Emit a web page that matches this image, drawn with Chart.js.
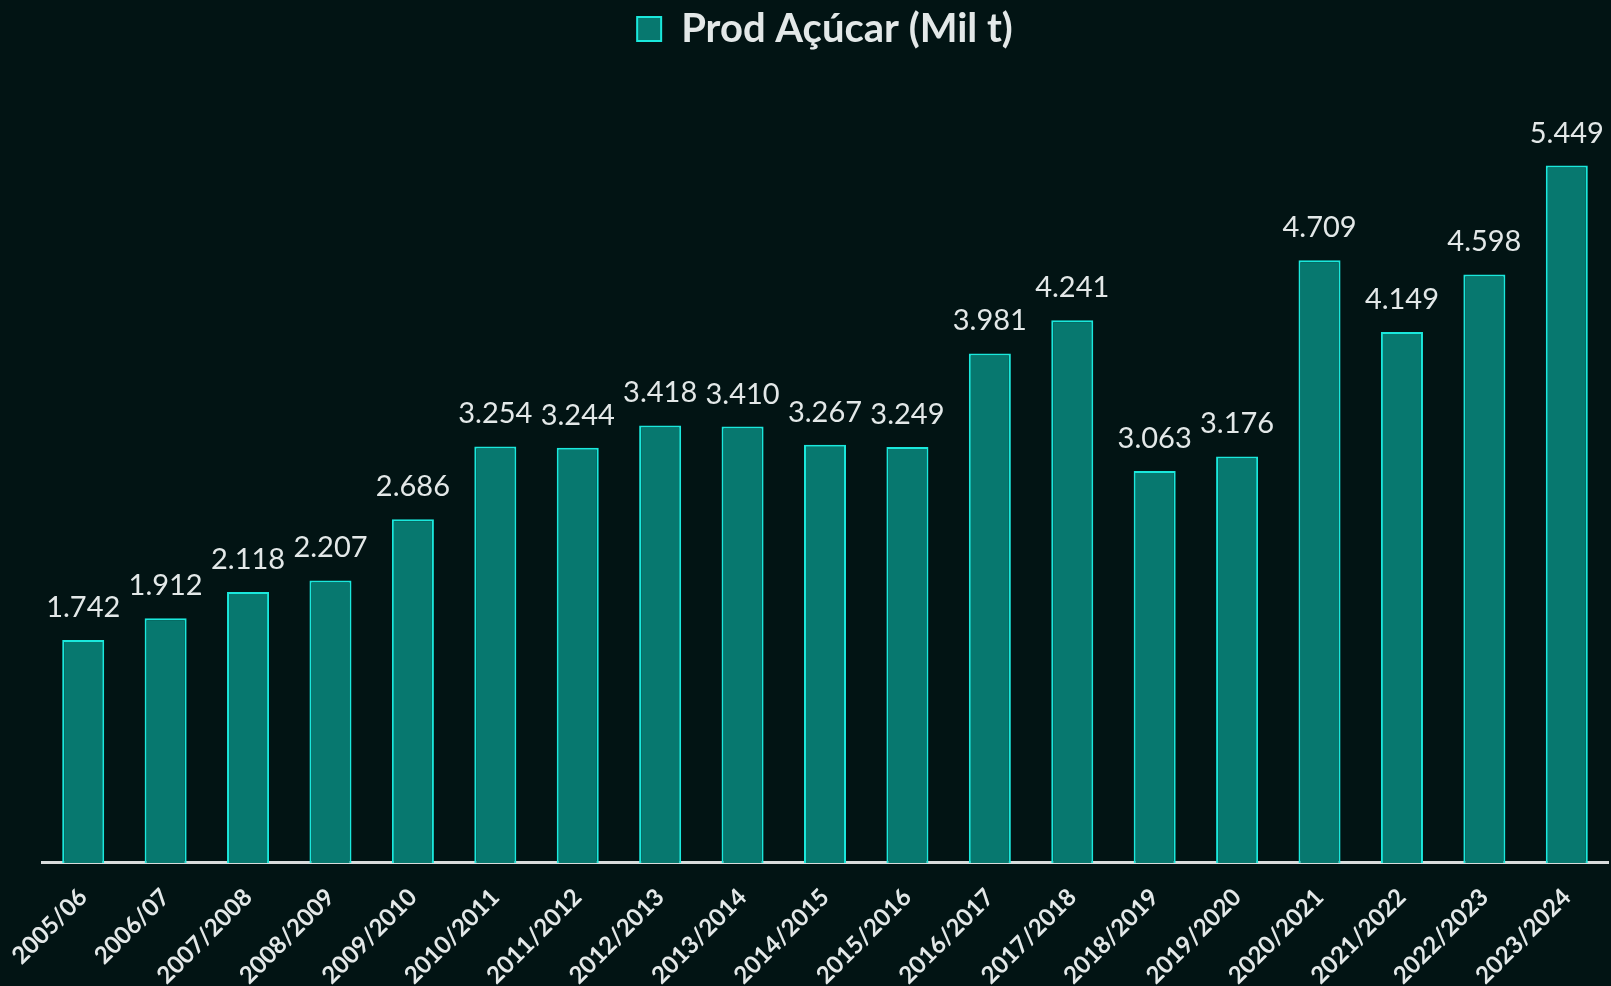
<!DOCTYPE html>
<html>
<head>
<meta charset="utf-8">
<script src="https://cdn.jsdelivr.net/npm/chart.js@4"></script>
<style>
html,body{margin:0;padding:0;background:#021414;}
#wrap{width:1611px;height:986px;position:relative;}
</style>
</head>
<body>
<div id="wrap"><canvas id="c"></canvas></div>
<script>
const categories = ["2005/06","2006/07","2007/2008","2008/2009","2009/2010","2010/2011","2011/2012","2012/2013","2013/2014","2014/2015","2015/2016","2016/2017","2017/2018","2018/2019","2019/2020","2020/2021","2021/2022","2022/2023","2023/2024"];
const prodAcucar = [1742,1912,2118,2207,2686,3254,3244,3418,3410,3267,3249,3981,4241,3063,3176,4709,4149,4598,5449];
const seriesName = "Prod Açúcar (Mil t)";

function fmt(v){ return String(v).replace(/\B(?=(\d{3})+(?!\d))/g, "."); }

const valueLabels = {
  id: 'valueLabels',
  afterDatasetsDraw(chart){
    const ctx = chart.ctx;
    const meta = chart.getDatasetMeta(0);
    ctx.save();
    ctx.font = '29px Lato';
    ctx.fillStyle = '#e3e8e8';
    ctx.textAlign = 'center';
    ctx.textBaseline = 'alphabetic';
    meta.data.forEach((bar, i) => {
      ctx.fillText(fmt(prodAcucar[i]), bar.x, bar.y - 23);
    });
    ctx.restore();
  }
};

const bg = {
  id:'bg',
  beforeDraw(chart){
    const ctx = chart.ctx;
    ctx.save();
    ctx.fillStyle = '#021414';
    ctx.fillRect(0,0,chart.width,chart.height);
    ctx.restore();
  }
};

const legendGap = {
  id:'legendGap',
  beforeInit(chart){
    const origFit = chart.legend.fit;
    chart.legend.fit = function(){
      origFit.bind(chart.legend)();
      this.height += 36;
    };
  }
};

new Chart(document.getElementById('c'), {
  type: 'bar',
  data: {
    labels: categories,
    datasets: [{
      label: seriesName,
      data: prodAcucar,
      backgroundColor: '#07786f',
      borderColor: '#1ae8dc',
      borderWidth: 2,
      categoryPercentage: 1,
      barPercentage: 0.51
    }]
  },
  options: {
    responsive: true,
    maintainAspectRatio: false,
    animation: false,
    layout: { padding: { top: 0, left: 42, right: 3, bottom: 0 } },
    plugins: {
      legend: {
        display: true,
        labels: {
          color: '#e3e8e8',
          font: { family: 'Lato', size: 40, weight: 'bold' },
          boxWidth: 24,
          boxHeight: 24,
          padding: 9
        }
      },
      tooltip: { enabled: false }
    },
    scales: {
      x: {
        grid: { display: false, drawTicks: false },
        border: { display: true, color: '#d8dcdc', width: 3 },
        afterFit(scale){ scale.height -= 24; scale.paddingLeft = 0; },
        ticks: {
          color: '#e3e8e8',
          font: { family: 'Lato', size: 24, weight: 'bold' },
          minRotation: 45,
          maxRotation: 45,
          padding: 20
        }
      },
      y: {
        display: false,
        min: 0,
        max: 6000
      }
    }
  },
  plugins: [bg, legendGap, valueLabels]
});
</script>
</body>
</html>
